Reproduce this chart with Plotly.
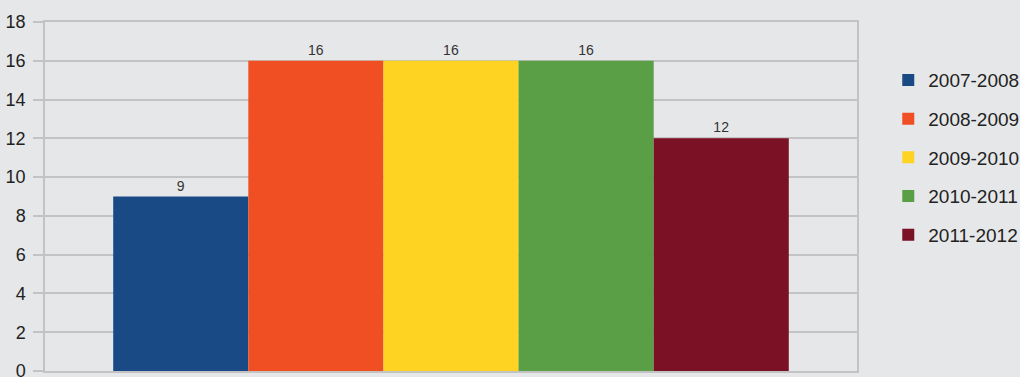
import plotly.graph_objects as go

seasons = ["2007-2008", "2008-2009", "2009-2010", "2010-2011", "2011-2012"]
values = [9, 16, 16, 16, 12]
colors = ["#1a4a86", "#f04e23", "#fed322", "#5a9e45", "#7a1124"]
y_ticks = [0, 2, 4, 6, 8, 10, 12, 14, 16, 18]

FONT = "Liberation Sans, Arial, sans-serif"

fig = go.Figure()
for s, v, c in zip(seasons, values, colors):
    fig.add_trace(go.Bar(
        x=["all"], y=[v], name=s, marker=dict(color=c, line=dict(width=0)),
        text=[str(v)], textposition="outside", cliponaxis=False,
        textfont=dict(size=14, color="#333333", family=FONT),
        legendgroup=s,
    ))

bg = "#e6e7e9"
grid = "#c3c3c3"
fig.update_layout(
    width=1020, height=377,
    margin=dict(l=45, r=163, t=22, b=6, autoexpand=False),
    paper_bgcolor=bg, plot_bgcolor=bg,
    barmode="group", bargap=0.168, bargroupgap=0,
    font=dict(family=FONT, color="#222222", size=16),
    legend=dict(x=1.0385, y=0.888, xanchor="left", yanchor="top",
                font=dict(size=19, color="#222222"), bgcolor="rgba(0,0,0,0)",
                traceorder="grouped", tracegroupgap=11, itemwidth=30),
    showlegend=True,
)
fig.update_yaxes(range=[0, 18], tickvals=y_ticks, showgrid=True, gridcolor=grid, gridwidth=1.5,
                 ticks="outside", ticklen=10, tickcolor=grid, tickwidth=1.5,
                 showline=True, linecolor=grid, linewidth=1.5, mirror=True,
                 zeroline=False, tickfont=dict(size=18, color="#222222"), ticklabelstandoff=4,
                 ticklabeloverflow="allow")
fig.update_xaxes(showticklabels=False, showline=True, linecolor=grid, linewidth=2, mirror=True,
                 ticks="")
fig.write_html("out.html", config={"displayModeBar": False},
               post_script="document.body.style.margin='0';document.body.style.overflow='hidden';")
